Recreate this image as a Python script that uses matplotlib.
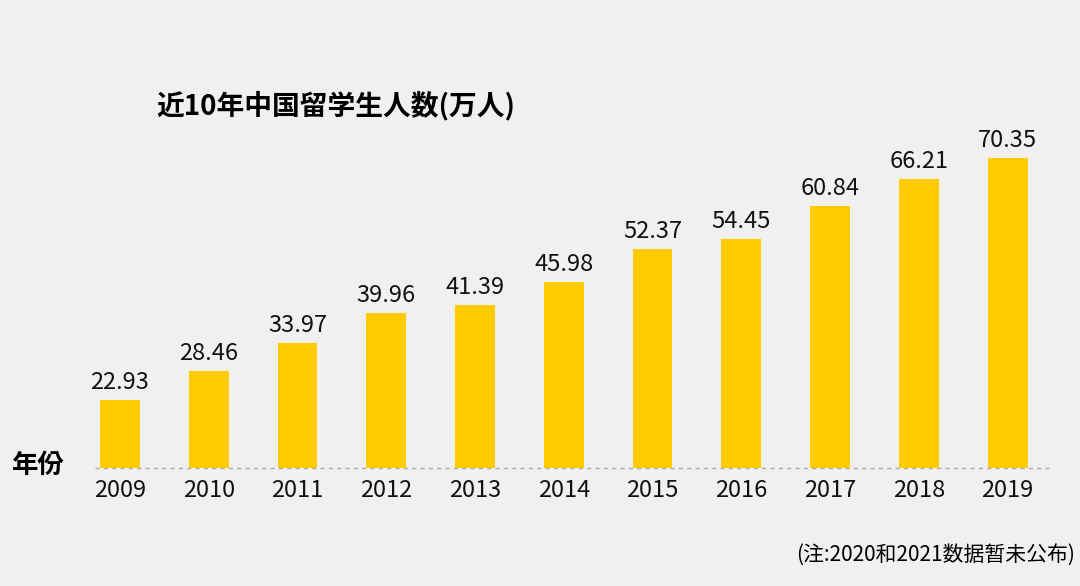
import matplotlib
matplotlib.use("Agg")
import matplotlib.pyplot as plt
from matplotlib import font_manager as fm

years = ["2009","2010","2011","2012","2013","2014","2015","2016","2017","2018","2019"]
values = [22.93,28.46,33.97,39.96,41.39,45.98,52.37,54.45,60.84,66.21,70.35]

cjk = None
for f in fm.findSystemFonts():
    n = f.lower()
    if "notosanscjk" in n.replace("-", "").replace(" ", "") or "notosanscjk" in n.replace("_", ""):
        cjk = f
        if "sc" in n or "regular" in n:
            break
if cjk:
    fm.fontManager.addfont(cjk)
    fam = fm.FontProperties(fname=cjk).get_name()
    plt.rcParams["font.family"] = [fam, "DejaVu Sans"]
else:
    plt.rcParams["font.family"] = ["Noto Sans CJK SC", "Noto Sans CJK JP", "DejaVu Sans"]

fig = plt.figure(figsize=(10.8,5.86), dpi=100, facecolor="#f0f0f0")
ax = fig.add_axes([0.070,0.201,0.904,0.614])
ax.set_facecolor("#f0f0f0")
x = range(len(years))
ax.bar(x, values, width=0.45, color="#FFCC00")
ax.set_ylim(9.5,80)
ax.set_xlim(-0.5,10.5)
for i,v in zip(x,values):
    ax.text(i, v+1.2, f"{v:.2f}", ha="center", va="bottom", fontsize=17, color="#111")
ax.axhline(9.5, color="#aaaaaa", ls=(0,(3,3)), lw=1, xmin=0.02, xmax=1.0, clip_on=False)
ax.set_xticks(list(x))
ax.set_xticklabels(years, fontsize=17, color="#111")
ax.tick_params(length=0, pad=8)
ax.set_yticks([])
for s in ax.spines.values():
    s.set_visible(False)
fig.text(0.145, 0.82, "近10年中国留学生人数(万人)", fontsize=20, fontweight="bold", va="center")
fig.text(0.011, 0.205, "年份", fontsize=19, fontweight="bold", va="center")
fig.text(0.995, 0.053, "(注:2020和2021数据暂未公布)", fontsize=15, ha="right", va="center")
fig.savefig("out.png", dpi=100, facecolor=fig.get_facecolor())
